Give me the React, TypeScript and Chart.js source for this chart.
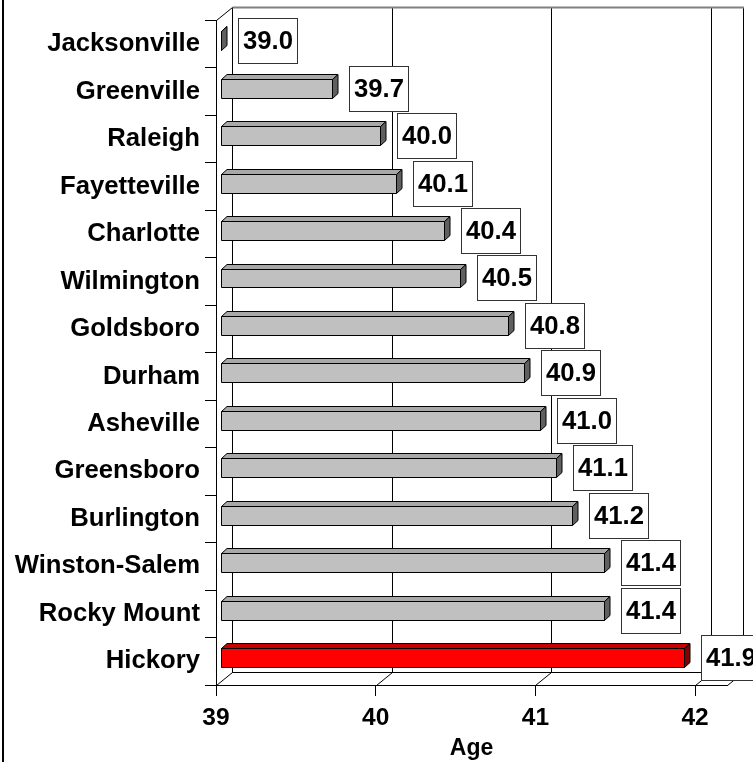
import { useEffect, useRef } from 'react';
import { Chart, registerables } from 'chart.js';

Chart.register(...registerables);

// Median age by city
const cities = [
  'Jacksonville',
  'Greenville',
  'Raleigh',
  'Fayetteville',
  'Charlotte',
  'Wilmington',
  'Goldsboro',
  'Durham',
  'Asheville',
  'Greensboro',
  'Burlington',
  'Winston-Salem',
  'Rocky Mount',
  'Hickory',
];
const medianAge = [39.0, 39.7, 40.0, 40.1, 40.4, 40.5, 40.8, 40.9, 41.0, 41.1, 41.2, 41.4, 41.4, 41.9];
const highlightCity = 'Hickory';

const ageTicks = [39, 40, 41, 42];
const ageMin = 39;
const ageMax = 42.2;
const axisTitle = 'Age';

const FONT = "'Liberation Sans', Arial, Helvetica, sans-serif";
const LABEL_SIZE = 25.7;

// Depth of the box the chart sits in, and of each bar
const WALL_DX = 16;
const WALL_DY = -13;
const BAR_FRONT_DX = 4.5;
const BAR_FRONT_DY = -3.5;
const BAR_DEPTH_DX = 5.5;
const BAR_DEPTH_DY = -5;

const GREY = { front: '#c0c0c0', top: '#a8a8a8', side: '#606060' };
const RED = { front: '#ff0000', top: '#c80000', side: '#800000' };

type Pt = [number, number];

function seg(ctx: CanvasRenderingContext2D, x1: number, y1: number, x2: number, y2: number) {
  ctx.beginPath();
  ctx.moveTo(x1, y1);
  ctx.lineTo(x2, y2);
  ctx.stroke();
}

function poly(ctx: CanvasRenderingContext2D, pts: Pt[], fill: string) {
  ctx.beginPath();
  ctx.moveTo(pts[0][0], pts[0][1]);
  for (let i = 1; i < pts.length; i++) ctx.lineTo(pts[i][0], pts[i][1]);
  ctx.closePath();
  ctx.fillStyle = fill;
  ctx.fill();
  ctx.stroke();
}

const depthPlugin = {
  id: 'depth3d',
  beforeDraw(chart: any) {
    const ctx: CanvasRenderingContext2D = chart.ctx;
    ctx.save();
    ctx.fillStyle = '#ffffff';
    ctx.fillRect(0, 0, chart.width, chart.height);
    ctx.strokeStyle = '#000';
    ctx.lineWidth = 2;
    seg(ctx, 3, 0, 3, chart.height);
    ctx.restore();
  },
  beforeDatasetsDraw(chart: any) {
    const ctx: CanvasRenderingContext2D = chart.ctx;
    const { left, right, top, bottom } = chart.chartArea;
    const xs = chart.scales.x;
    const bl = Math.round(left) + 0.5;
    const br = Math.round(right) + 0.5;
    const bt = Math.round(top) + 0.5;
    const bb = Math.round(bottom) + 0.5;
    ctx.save();
    ctx.strokeStyle = '#000';
    ctx.lineWidth = 1;
    // side wall top edge and back wall outline
    seg(ctx, bl, bt, bl + WALL_DX, bt + WALL_DY);
    seg(ctx, bl + WALL_DX, bt + WALL_DY, bl + WALL_DX, bb + WALL_DY);
    seg(ctx, bl + WALL_DX, bb + WALL_DY, br + WALL_DX, bb + WALL_DY);
    seg(ctx, br, bb, br + WALL_DX, bb + WALL_DY);
    seg(ctx, br + WALL_DX, bt + WALL_DY, br + WALL_DX, bb + WALL_DY);
    // gridlines on the back wall and floor
    ageTicks.forEach((v) => {
      const px = Math.round(xs.getPixelForValue(v)) + 0.5;
      seg(ctx, px, bb, px + WALL_DX, bb + WALL_DY);
      seg(ctx, px + WALL_DX, bt + WALL_DY, px + WALL_DX, bb + WALL_DY);
    });
    ctx.strokeStyle = '#808080';
    ctx.lineWidth = 2;
    seg(ctx, bl + WALL_DX, bt + WALL_DY, br + WALL_DX + 0.5, bt + WALL_DY);
    ctx.restore();
  },
  beforeDatasetDraw() {
    return false;
  },
  afterDatasetsDraw(chart: any) {
    const ctx: CanvasRenderingContext2D = chart.ctx;
    const xs = chart.scales.x;
    const meta = chart.getDatasetMeta(0);
    const values: number[] = chart.data.datasets[0].data;
    const labels: string[] = chart.data.labels;
    const basePx = xs.getPixelForValue(ageMin);
    ctx.save();
    ctx.strokeStyle = '#000';
    ctx.lineWidth = 1;
    ctx.lineJoin = 'miter';
    const fronts: { right: number; cy: number }[] = [];
    meta.data.forEach((el: any, i: number) => {
      const p = el.getProps(['x', 'y', 'height'], true);
      const pal = labels[i] === highlightCity ? RED : GREY;
      const x0 = Math.round(basePx + BAR_FRONT_DX) + 0.5;
      const x1 = Math.round(p.x + BAR_FRONT_DX) + 0.5;
      const yT = Math.round(p.y - p.height / 2 + BAR_FRONT_DY) + 0.5;
      const yB = Math.round(p.y + p.height / 2 + BAR_FRONT_DY) + 0.5;
      const dx = BAR_DEPTH_DX;
      const dy = BAR_DEPTH_DY;
      poly(ctx, [[x0, yT], [x1, yT], [x1 + dx, yT + dy], [x0 + dx, yT + dy]], pal.top);
      poly(ctx, [[x1, yT], [x1, yB], [x1 + dx, yB + dy], [x1 + dx, yT + dy]], pal.side);
      poly(ctx, [[x0, yT], [x1, yT], [x1, yB], [x0, yB]], pal.front);
      fronts.push({ right: x1 + dx, cy: (yT + yB) / 2 });
    });
    // value boxes
    ctx.font = `bold ${LABEL_SIZE}px ${FONT}`;
    ctx.textAlign = 'center';
    ctx.textBaseline = 'middle';
    fronts.forEach((f, i) => {
      const text = values[i].toFixed(1);
      const tw = ctx.measureText(text).width;
      const w = Math.round(tw + 9);
      const h = 45;
      const bx = Math.round(f.right + 11) + 0.5;
      const by = Math.round(f.cy - 1 - h / 2) + 0.5;
      ctx.fillStyle = '#ffffff';
      ctx.strokeStyle = '#333333';
      ctx.fillRect(bx, by, w, h);
      ctx.strokeRect(bx, by, w, h);
      ctx.fillStyle = '#000';
      ctx.fillText(text, bx + w / 2, by + h / 2 + 1);
    });
    ctx.restore();
  },
};

export default function App() {
  const canvasRef = useRef<HTMLCanvasElement | null>(null);

  useEffect(() => {
    document.body.style.margin = '0';
    const canvas = canvasRef.current;
    if (!canvas) return;
    Chart.defaults.font.family = FONT;
    Chart.defaults.color = '#000';
    const chart = new Chart(canvas, {
      type: 'bar',
      data: {
        labels: cities,
        datasets: [
          {
            label: axisTitle,
            data: medianAge,
            backgroundColor: cities.map((c) => (c === highlightCity ? RED.front : GREY.front)),
            categoryPercentage: 1,
            barPercentage: 0.4,
          },
        ],
      },
      plugins: [depthPlugin],
      options: {
        indexAxis: 'y',
        animation: false,
        responsive: false,
        devicePixelRatio: 1,
        layout: { padding: { top: 19, right: 26, left: 0, bottom: 0 } },
        plugins: {
          legend: { display: false },
          tooltip: { enabled: false },
        },
        scales: {
          y: {
            grid: { drawOnChartArea: false, drawTicks: true, tickLength: 11, color: '#000', lineWidth: 1, offset: true },
            border: { display: true, color: '#000', width: 1 },
            ticks: { font: { size: LABEL_SIZE, weight: 'bold' }, color: '#000', padding: 5, autoSkip: false },
            afterFit: (scale: any) => {
              scale.width = 216;
            },
          },
          x: {
            min: ageMin,
            max: ageMax,
            grid: { drawOnChartArea: false, drawTicks: true, tickLength: 11, color: '#000', lineWidth: 1 },
            border: { display: true, color: '#000', width: 1 },
            ticks: { font: { size: 24.5, weight: 'bold' }, color: '#000', padding: 8, autoSkip: false, maxRotation: 0 },
            afterBuildTicks: (scale: any) => {
              scale.ticks = ageTicks.map((v) => ({ value: v }));
            },
            title: {
              display: true,
              text: axisTitle,
              font: { size: 23, weight: 'bold' },
              color: '#000',
              padding: { top: 0, bottom: 0 },
            },
            afterFit: (scale: any) => {
              scale.height = 77;
            },
          },
        },
      } as any,
    });
    return () => chart.destroy();
  }, []);

  return (
    <div style={{ width: 753, height: 762 }}>
      <canvas ref={canvasRef} width={753} height={762} />
    </div>
  );
}
